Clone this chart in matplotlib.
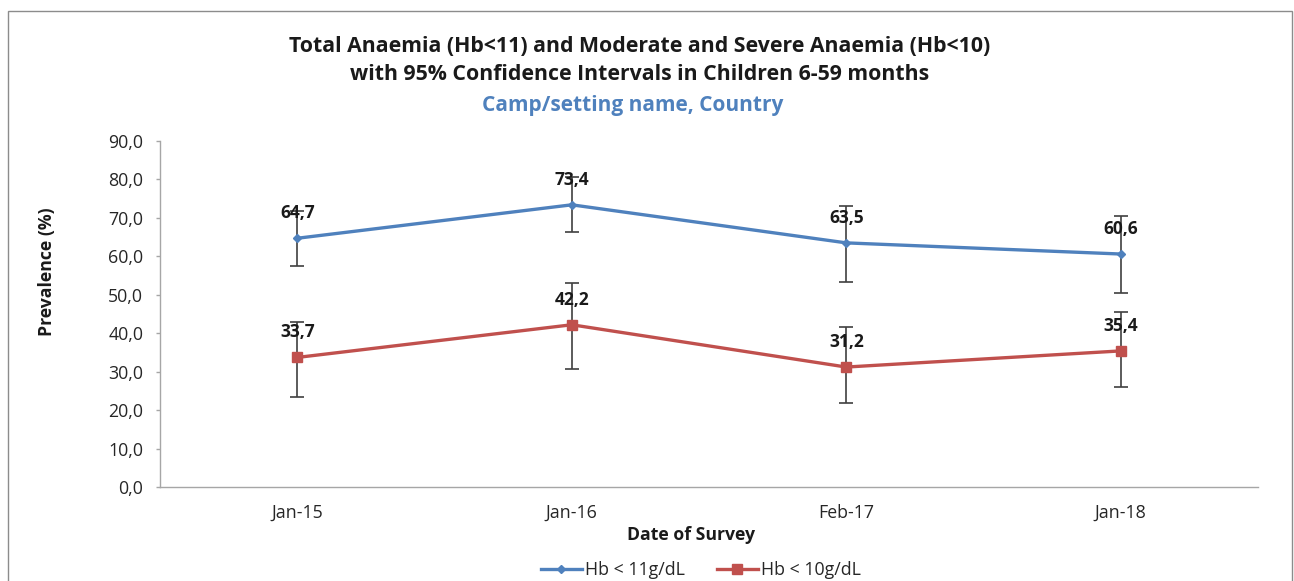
import matplotlib
matplotlib.use("Agg")
import matplotlib.pyplot as plt
from matplotlib.patches import Rectangle
import numpy as np

plt.rcParams['font.family'] = ['Open Sans', 'DejaVu Sans']

categories = ["Jan-15", "Jan-16", "Feb-17", "Jan-18"]
hb11 = [64.7, 73.4, 63.5, 60.6]
hb11_low = [57.5, 66.2, 53.4, 50.5]
hb11_high = [71.9, 80.6, 73.1, 70.5]
hb10 = [33.7, 42.2, 31.2, 35.4]
hb10_low = [23.3, 30.6, 21.8, 25.9]
hb10_high = [43.0, 53.0, 41.5, 45.6]
yticks = [0, 10, 20, 30, 40, 50, 60, 70, 80, 90]

W, H = 1294, 581
fig = plt.figure(figsize=(W / 100, H / 100), dpi=100)
ax = fig.add_axes([160 / W, 1 - 487 / H, (1258 - 160) / W, (487 - 141) / H])

x = np.arange(len(categories))
blue = "#4F81BD"
red = "#C0504D"
errc = "#404040"

def draw(vals, lo, hi, color, marker, ms, label):
    v = np.array(vals)
    yerr = [v - np.array(lo), np.array(hi) - v]
    ax.errorbar(x, v, yerr=yerr, fmt="none", ecolor=errc, elinewidth=1.2,
                capsize=5, capthick=1.2, zorder=2)
    ax.plot(x, v, color=color, lw=2.4, marker=marker, ms=ms, label=label,
            zorder=3)
    for xi, vi in zip(x, v):
        ax.annotate(f"{vi:.1f}".replace(".", ","), (xi, vi), xytext=(0, 18),
                    textcoords="offset points", ha="center", va="center",
                    fontsize=12.5, fontweight="bold", color="#1a1a1a", zorder=4)

draw(hb11, hb11_low, hb11_high, blue, "D", 4.5, "Hb < 11g/dL")
draw(hb10, hb10_low, hb10_high, red, "s", 6.5, "Hb < 10g/dL")

ax.set_xlim(-0.5, len(categories) - 0.5)
ax.set_ylim(0, 90)
ax.set_xticks(x)
ax.set_xticklabels(categories)
ax.set_yticks(yticks)
ax.set_yticklabels([f"{t:.1f}".replace(".", ",") for t in yticks])
ax.tick_params(axis="x", length=0, pad=12, labelsize=12.8, labelcolor="#262626")
ax.tick_params(axis="y", length=3, width=1, color="#A6A6A6", pad=9,
               labelsize=12.8, labelcolor="#262626")
for s in ["top", "right"]:
    ax.spines[s].set_visible(False)
for s in ["left", "bottom"]:
    ax.spines[s].set_color("#A6A6A6")
    ax.spines[s].set_linewidth(1.0)

fig.text(640 / W, 1 - 47 / H, "Total Anaemia (Hb<11) and Moderate and Severe Anaemia (Hb<10)",
         ha="center", va="center", fontsize=15.3, fontweight="bold", color="#1a1a1a")
fig.text(640 / W, 1 - 75 / H, "with 95% Confidence Intervals in Children 6-59 months",
         ha="center", va="center", fontsize=15.3, fontweight="bold", color="#1a1a1a")
fig.text(633 / W, 1 - 106 / H, "Camp/setting name, Country",
         ha="center", va="center", fontsize=15, fontweight="bold", color=blue)
fig.text(691 / W, 1 - 535 / H, "Date of Survey", ha="center", va="center",
         fontsize=12.7, fontweight="bold", color="#1a1a1a")
fig.text(47 / W, 1 - 272 / H, "Prevalence (%)", ha="center", va="center",
         rotation=90, fontsize=12.7, fontweight="bold", color="#1a1a1a")

leg = fig.legend(loc="center", bbox_to_anchor=(701 / W, 1 - 570 / H), ncol=2,
                 frameon=False, fontsize=12.8, handlelength=2.3, columnspacing=1.8,
                 handletextpad=0.2)
for t in leg.get_texts():
    t.set_color("#262626")

fig.patches.append(Rectangle((8 / W, -0.05), (1292 - 8) / W, (1 - 11 / H) + 0.05,
                             transform=fig.transFigure, fill=False,
                             edgecolor="#8C8C8C", lw=1.0, zorder=10))

fig.savefig("out.png", dpi=100)
